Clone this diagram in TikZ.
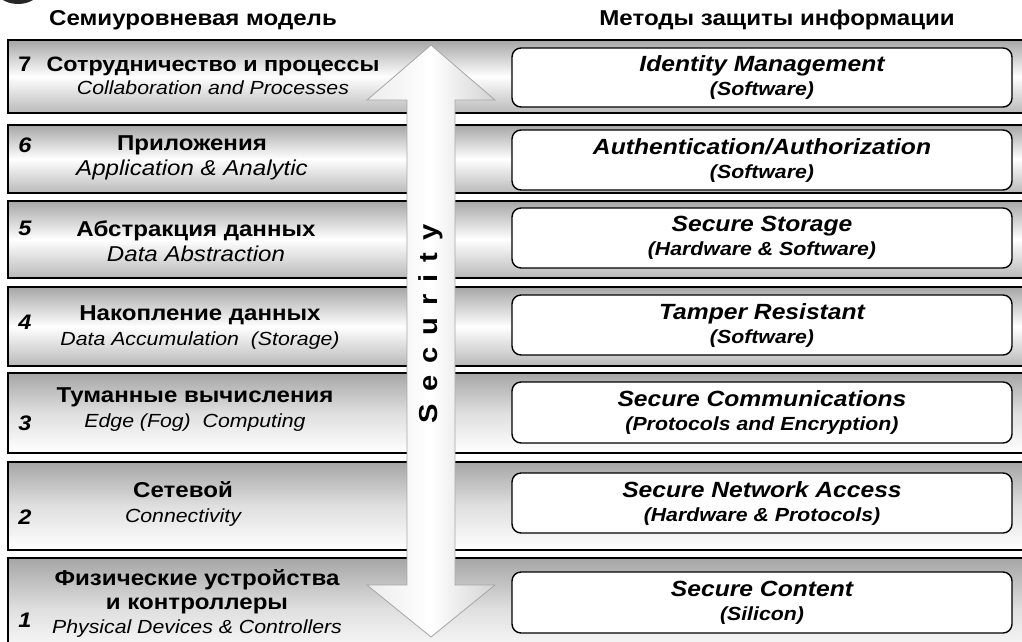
\documentclass[tikz,border=0pt]{standalone}
\usepackage{fontspec}
\setmainfont[FakeStretch=1.12]{Liberation Sans}
\usetikzlibrary{positioning}

\newcommand{\layersub}[1]{{\fontsize{19}{25}\selectfont\mdseries\itshape #1}}
\newcommand{\mtitle}[1]{{\fontsize{22}{24}\selectfont\bfseries\itshape #1}}
\newcommand{\msub}[1]{{\fontsize{19}{24}\selectfont\bfseries\itshape #1}}

\begin{document}
\begin{tikzpicture}[x=1pt, y=-1pt, every node/.style={inner sep=0pt},
  band/.style={draw=black, line width=2.6pt, minimum width=1040pt, top color=gray!70, bottom color=gray!55, middle color=white},
  bandlow/.style={draw=black, line width=2.6pt, minimum width=1040pt, top color=gray!70, bottom color=white, middle color=gray!25},
  method/.style={draw=black, line width=1.4pt, rounded corners=9pt, fill=white, minimum width=500pt, align=center, font=\fontsize{22}{24}\selectfont},
  layer/.style={align=center, font=\fontsize{21.5}{25}\selectfont\bfseries},
  num/.style={font=\fontsize{21}{23}\selectfont\bfseries\itshape},
  head/.style={font=\fontsize{21.5}{24}\selectfont\bfseries}]
\clip (0,0) rectangle (1022,641);
\fill[black!85] (18,-14) ellipse [x radius=24, y radius=18];

% headers
\node[head] (hleft) at (193,20) {Семиуровневая модель};
\node[head] (hright) at (777,20) {Методы защиты информации};

% the seven layers
\node[band, minimum height=73pt] (b7) at (528,76.5) {};
\node[band, minimum height=68pt] (b6) at (528,159) {};
\node[band, minimum height=77pt] (b5) at (528,239.5) {};
\node[band, minimum height=79pt] (b4) at (528,326.5) {};
\node[bandlow, minimum height=80pt] (b3) at (528,413) {};
\node[bandlow, minimum height=88pt] (b2) at (528,506) {};
\node[bandlow, minimum height=102pt] (b1) at (528,609) {};

% security arrow
\draw[draw=gray!70, line width=0.8pt, left color=gray!15, right color=gray!35, middle color=white]
  (431,45) -- (495,100) -- (455,100) -- (455,585) -- (495,585) -- (431,637)
  -- (367,585) -- (407,585) -- (407,100) -- (367,100) -- cycle;
\node[rotate=90, font=\fontsize{26}{28}\selectfont\bfseries\addfontfeature{LetterSpace=46}] (sec) at (431,324) {Security};

% layer names
\node[num, font=\fontsize{21}{23}\selectfont\bfseries] (n7) at (25,64) {7};
\node[layer, font=\fontsize{20.8}{23}\selectfont\bfseries] (l7) at (213,75.5) {Сотрудничество и процессы\\\layersub{Collaboration and Processes}};
\node[num] (n6) at (25,145) {6};
\node[layer] (l6) at (192,158) {Приложения\\\layersub{\fontsize{21.5}{25}\selectfont Application \& Analytic}};
\node[num] (n5) at (25,228) {5};
\node[layer] (l5) at (196,241) {Абстракция данных\\\layersub{\fontsize{21.5}{25}\selectfont Data Abstraction}};
\node[num] (n4) at (25,322) {4};
\node[layer] (l4) at (200,327.5) {Накопление данных\\\layersub{Data Accumulation\ \ (Storage)}};
\node[num] (n3) at (25,423) {3};
\node[layer] (l3) at (195,409.5) {Туманные вычисления\\\layersub{Edge (Fog)\ \ Computing}};
\node[num] (n2) at (25,517) {2};
\node[layer] (l2) at (183,504) {Сетевой\\\layersub{Connectivity}};
\node[num] (n1) at (25,620) {1};
\node[layer, font=\fontsize{21.5}{24}\selectfont\bfseries] (l1) at (197,603.5) {Физические устройства\\и контроллеры\\\layersub{Physical Devices \& Controllers}};

% protection methods
\node[method, minimum height=59pt] (m7) at (762,77.5) {\mtitle{Identity Management}\\\msub{(Software)}};
\node[method, minimum height=60pt] (m6) at (762,160) {\mtitle{Authentication/Authorization}\\\msub{(Software)}};
\node[method, minimum height=60pt] (m5) at (762,238) {\mtitle{Secure Storage}\\\msub{(Hardware \& Software)}};
\node[method, minimum height=60pt] (m4) at (762,325) {\mtitle{Tamper Resistant}\\\msub{(Software)}};
\node[method, minimum height=61pt] (m3) at (762,412.5) {\mtitle{Secure Communications}\\\msub{(Protocols and Encryption)}};
\node[method, minimum height=60pt] (m2) at (762,503) {\mtitle{Secure Network Access}\\\msub{(Hardware \& Protocols)}};
\node[method, minimum height=61pt] (m1) at (762,602.5) {\mtitle{Secure Content}\\\msub{(Silicon)}};
\end{tikzpicture}
\end{document}
